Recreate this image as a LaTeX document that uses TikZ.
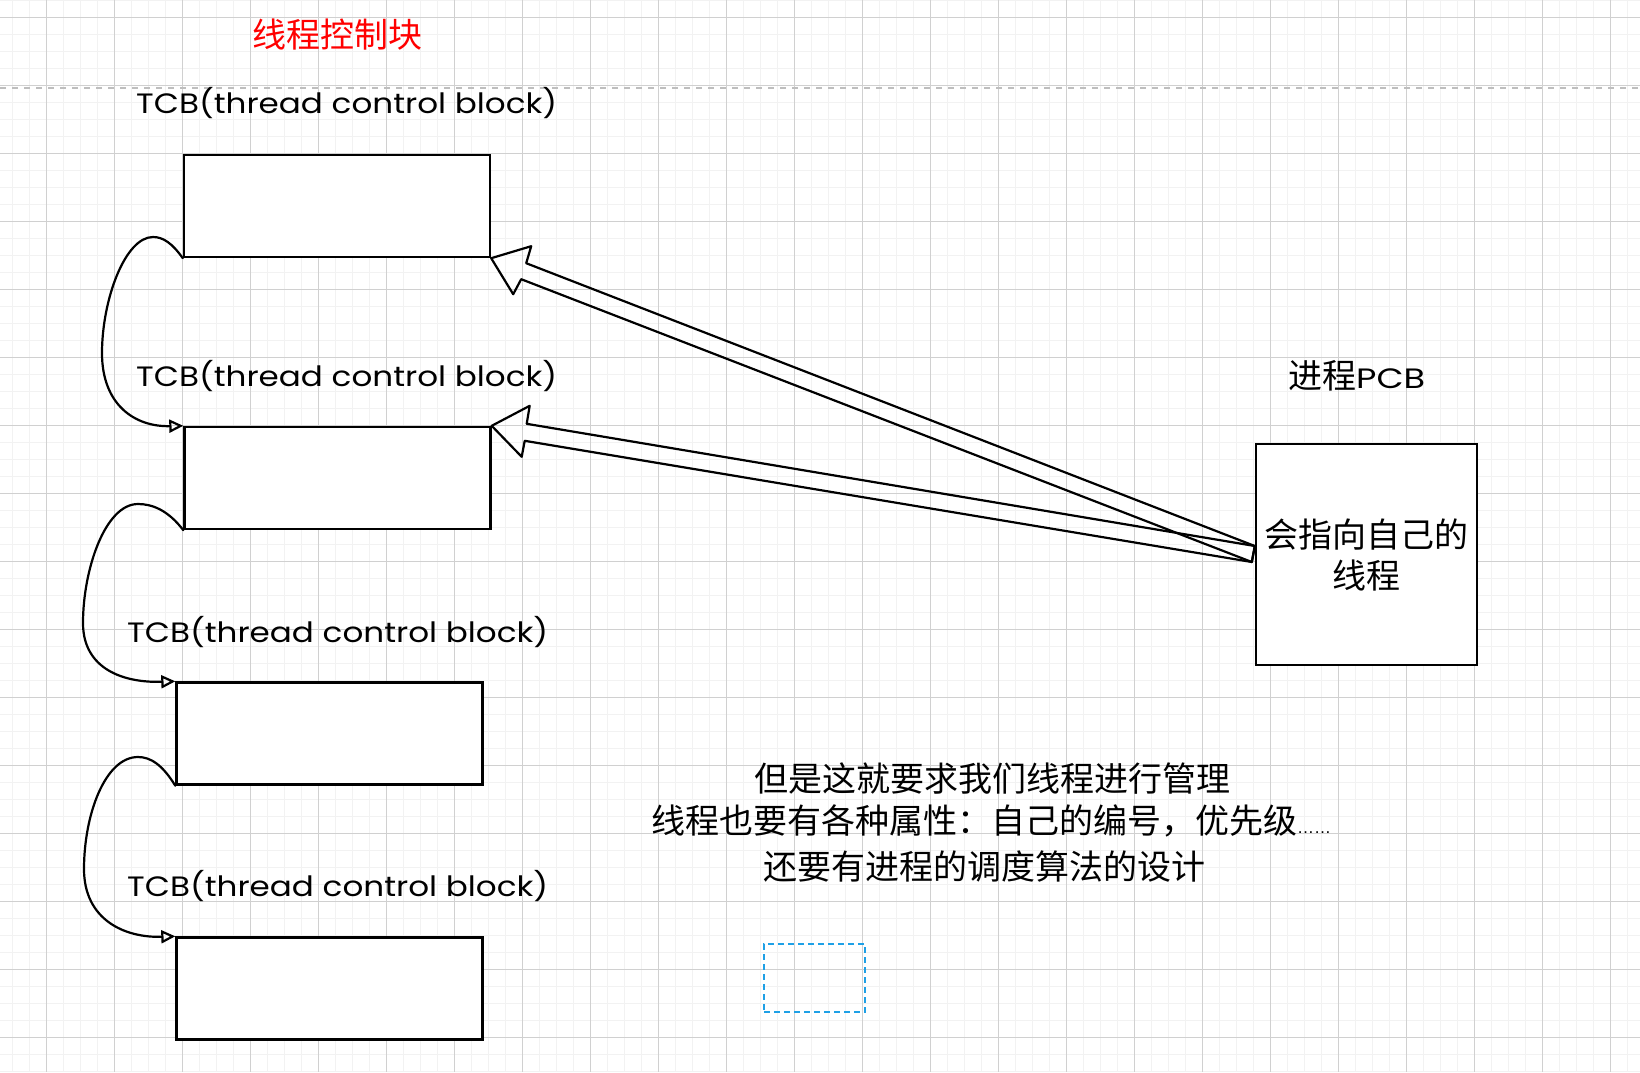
\documentclass[tikz,border=0pt]{standalone}
\usepackage{fontspec}
\setmainfont{Noto Sans CJK SC}
\newfontfamily\cjkfont{Noto Sans CJK SC}
\newfontfamily\handfont{Poppins}
\newfontfamily\dotfont{Liberation Sans}
\usetikzlibrary{arrows.meta, calc}
\definecolor{gridminor}{RGB}{242,242,242}
\definecolor{gridmajor}{RGB}{208,208,208}
\definecolor{breakgray}{RGB}{190,190,190}
\definecolor{selblue}{RGB}{30,160,230}
\definecolor{titlered}{RGB}{255,0,0}

\tikzset{
  tcbbox/.style={draw, fill=white, line width=2.4pt, minimum width=306pt, minimum height=102pt, inner sep=0pt},
  pcbbox/.style={draw, fill=white, line width=2.4pt, minimum width=221pt, minimum height=221pt, inner sep=0pt,
    align=center, font=\cjkfont\fontsize{34pt}{41pt}\selectfont},
  tcblabel/.style={anchor=base west, inner sep=0pt, font=\handfont\fontsize{28pt}{34pt}\selectfont},
  cjktext/.style={anchor=base west, inner sep=0pt, font=\cjkfont\fontsize{34pt}{41pt}\selectfont},
  chain/.style={line width=2.2pt, line cap=round, -{Triangle[open, length=14pt, width=13pt]}},
  bigarrow/.style={line width=2.2pt, line join=round},
}

\begin{document}
\begin{tikzpicture}[x=1pt, y=-1pt]
\useasboundingbox (0,0) rectangle (1640,1072);
\fill[white] (0,0) rectangle (1640,1072);

% Grid
\foreach \x in {12.3,29.3,...,1640} \draw[gridminor, line width=1pt] (\x,0) -- (\x,1072);
\foreach \y in {0.3,17.3,...,1072} \draw[gridminor, line width=1pt] (0,\y) -- (1640,\y);
\foreach \x in {46.3,114.3,...,1640} \draw[gridmajor, line width=1pt] (\x,0) -- (\x,1072);
\foreach \y in {17.3,85.3,...,1072} \draw[gridmajor, line width=1pt] (0,\y) -- (1640,\y);
\draw[breakgray, line width=1.5pt, dash pattern=on 6pt off 6pt] (0,88) -- (1640,88);

\node[cjktext, text=titlered] (title) at (252,47.5) {线程控制块};

% TCB boxes and labels
\node[tcblabel] (lab1) at (136,113) {\resizebox{421pt}{\height}{TCB(thread control block)}};
\node[tcbbox] (tcb1) at (337,206) {};
\node[tcblabel] (lab2) at (136,386) {\resizebox{421pt}{\height}{TCB(thread control block)}};
\node[tcbbox] (tcb2) at (337.5,478) {};
\node[tcblabel] (lab3) at (127,642) {\resizebox{421pt}{\height}{TCB(thread control block)}};
\node[tcbbox] (tcb3) at (329.5,733.5) {};
\node[tcblabel] (lab4) at (127,896) {\resizebox{421pt}{\height}{TCB(thread control block)}};
\node[tcbbox] (tcb4) at (329.5,988.5) {};

% Links between TCBs
\draw[chain] (tcb1.south west) .. controls (172,243) and (163,237) .. (153,237)
  .. controls (125,237) and (102,300) .. (102,353)
  .. controls (102,405) and (135,427) .. (tcb2.north west);
\draw[chain] (tcb2.south west) .. controls (168,510) and (152,504) .. (138,504)
  .. controls (105,504) and (83,570) .. (83,623)
  .. controls (83,670) and (125,683) .. (tcb3.north west);
\draw[chain] (tcb3.south west) .. controls (162,764) and (150,757) .. (138,757)
  .. controls (105,757) and (84,815) .. (84,869)
  .. controls (84,920) and (125,938) .. (tcb4.north west);

% PCB
\node[cjktext] (pcblabel) at (1288,388) {进程{\handfont\fontsize{28pt}{34pt}\selectfont\resizebox{69pt}{\height}{PCB}}};
\node[pcbbox] (pcb) at (1366.5,554.5) {会指向自己的\\线程};
\coordinate (tailA) at ($(pcb.west)+(0,-8.5)$);
\coordinate (tailB) at ($(pcb.west)+(-3,7.5)$);

% Pointers from PCB
\draw[bigarrow] (tcb1.south east) -- ++(40,-12) -- ++(-5,17) -- (tailA) -- (tailB)
  -- ($(tcb1.south east)+(30,21)$) -- ++(-8,15) -- cycle;
\draw[bigarrow] (tcb2.north east) -- ++(38,-20) -- ++(-3,18) -- (tailA) -- (tailB)
  -- ($(tcb2.north east)+(33,15)$) -- ++(-3,16) -- cycle;

% Notes
\node[cjktext] (note1) at (754,791) {但是这就要求我们线程进行管理};
\node[cjktext] (note2) at (651,833) {线程也要有各种属性：自己的编号，优先级{\dotfont\fontsize{17pt}{20pt}\selectfont ……}};
\node[cjktext] (note3) at (763,879) {还要有进程的调度算法的设计};

\node[draw=selblue, line width=2pt, dash pattern=on 6pt off 4pt, minimum width=101pt, minimum height=68pt, inner sep=0pt] (sel) at (814.5,978) {};
\end{tikzpicture}
\end{document}
